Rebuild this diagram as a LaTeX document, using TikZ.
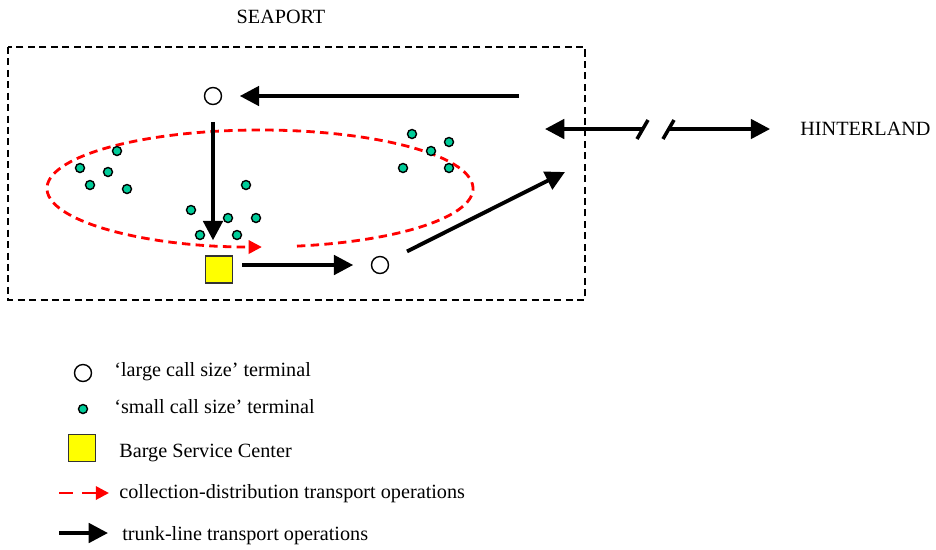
\documentclass[tikz,border=0pt]{standalone}
\usepackage{fontspec}
\setmainfont{Liberation Serif}
\usetikzlibrary{arrows.meta}

\definecolor{spTeal}{HTML}{00CC99}
\definecolor{spYellow}{HTML}{FFFF00}
\definecolor{spRed}{HTML}{FF0000}
\definecolor{spEdge}{HTML}{333333}

\begin{document}
\begin{tikzpicture}[x=0.02cm,y=-0.02cm,font=\fontsize{11.5}{14}\selectfont,
  bigterm/.style={circle,draw=black,fill=white,line width=0.8pt,minimum size=0.34cm,inner sep=0pt},
  smallterm/.style={circle,draw=black,fill=spTeal,line width=0.8pt,minimum size=0.18cm,inner sep=0pt},
  bsc/.style={rectangle,draw=spEdge,fill=spYellow,line width=0.9pt,minimum size=0.54cm,inner sep=0pt},
  lbl/.style={inner sep=0pt},
  trunk/.style={line width=2.2pt,-{Triangle[length=11pt,width=11pt]}},
  collect/.style={spRed,line width=1.6pt,dash pattern=on 4.8pt off 3pt,-{Triangle[length=7.5pt,width=7.5pt]}},
  portline/.style={line width=1pt,dash pattern=on 4pt off 2.5pt},
  cut/.style={line width=2pt}]
  \useasboundingbox (0,0) rectangle (936,549);

  % ---- seaport area ----
  \draw[portline] (8,47) rectangle (585,300);
  \node[lbl,anchor=base] (seaport) at (281,23) {SEAPORT};

  % ---- collection-distribution loop ----
  \draw[collect] (260,188.5) ++(80:213 and 58.5)
    arc[start angle=80,end angle=-270.5,x radius=213,y radius=58.5];

  % ---- terminals ----
  \foreach \p [count=\i] in {(117,151),(80,168),(108,172),(90,185),(127,189),
                             (246,185),(191,210),(228,218),(256,218),(200,235),(237,235),
                             (412,134),(449,142),(431,151),(403,168),(449,168)}
    \node[smallterm] (sc\i) at \p {};
  \node[bigterm] (lcTop) at (213,96) {};
  \node[bigterm] (lcBot) at (380,265) {};
  \node[bsc] (bscPort) at (219,269.5) {};

  % ---- trunk lines ----
  \coordinate (fromHinter) at (519,96);
  \coordinate (toHinter)   at (565,172);
  \draw[trunk,shorten >=10pt] (fromHinter) -- (lcTop);
  \draw[trunk,shorten <=9.5pt,shorten >=8.5pt] (lcTop) -- (lcTop |- bscPort.north);
  \draw[trunk,shorten <=5pt,shorten >=10pt] (bscPort.east |- lcBot) -- (lcBot);
  \draw[trunk,shorten <=12pt] (lcBot) -- (toHinter);

  % ---- link to the hinterland ----
  \node[lbl,anchor=base west] (hinter) at (800,135) {HINTERLAND};
  \coordinate (portEdge) at (545,129);
  \coordinate (breakL)   at (643,129);
  \coordinate (breakR)   at (669,129);
  \draw[trunk] (breakL) -- (portEdge);
  \draw[trunk,shorten >=17pt] (breakR) -- (breakR -| hinter.west);
  \foreach \x in {643,669}
    \draw[cut] (\x-6,139) -- (\x+5,120);

  % ---- legend ----
  \node[bigterm] (lgLarge) at (83,373) {};
  \node[lbl,anchor=base west] (lgLargeTxt) at (114,376) {‘large call size’ terminal};
  \node[smallterm] (lgSmall) at (83,409) {};
  \node[lbl,anchor=base west] (lgSmallTxt) at (114,413) {‘small call size’ terminal};
  \node[bsc] (lgBsc) at (82,448) {};
  \node[lbl,anchor=base west] (lgBscTxt) at (119,457) {Barge Service Center};
  \coordinate (lgCollA) at (59,493);
  \coordinate (lgCollB) at (109,493);
  \draw[collect,dash pattern=on 8pt off 5pt] (lgCollA) -- (lgCollB);
  \node[lbl,anchor=base west] (lgCollTxt) at (119,498) {collection-distribution transport operations};
  \coordinate (lgTrunkA) at (59,533);
  \coordinate (lgTrunkB) at (108,533);
  \draw[trunk] (lgTrunkA) -- (lgTrunkB);
  \node[lbl,anchor=base west] (lgTrunkTxt) at (122,540) {trunk-line transport operations};
\end{tikzpicture}
\end{document}
